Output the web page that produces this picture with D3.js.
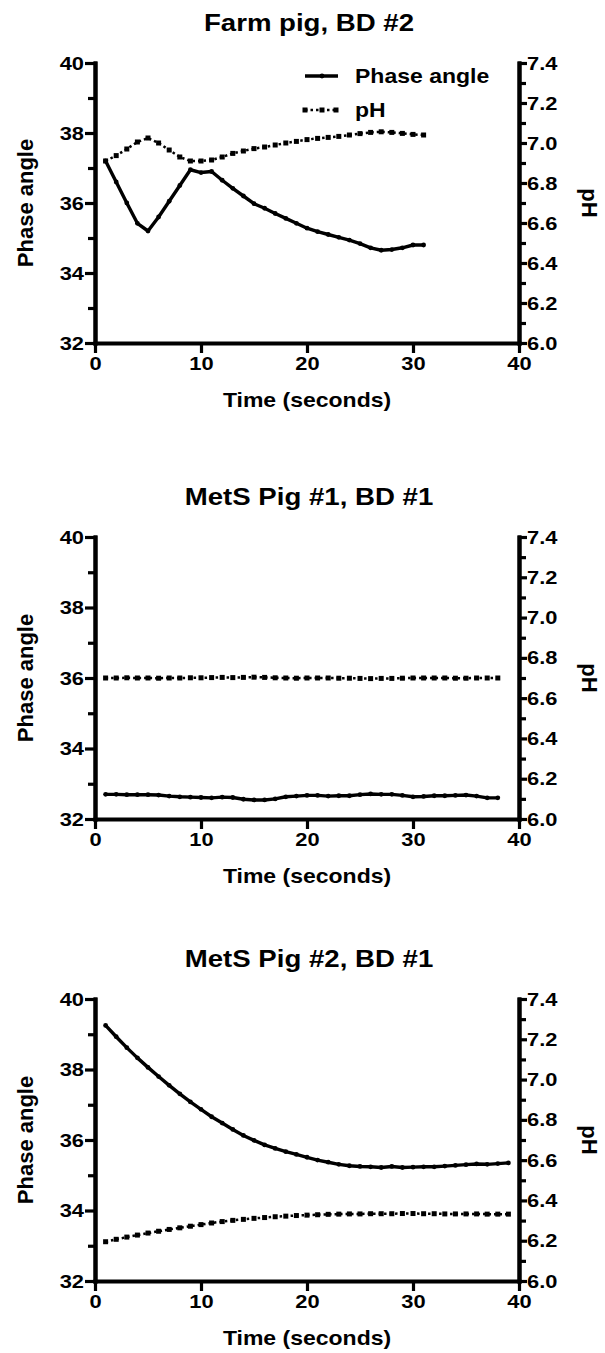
<!DOCTYPE html>
<html lang="en">
<head>
  <meta charset="UTF-8">
  <title>Phase angle and pH over time</title>
  <style>
    body {
      margin: 0;
      background: #fff;
    }
    svg text {
      font-family: "Liberation Sans", Arial, sans-serif;
      font-weight: bold;
      fill: #000;
    }
  </style>
  <script src="https://d3js.org/d3.v7.min.js"></script>
</head>
<body>
  <div id="chart"></div>

  <script>
    // ---- data ----
    const farmTime = [1, 2, 3, 4, 5, 6, 7, 8, 9, 10, 11, 12, 13, 14, 15, 16,
      17, 18, 19, 20, 21, 22, 23, 24, 25, 26, 27, 28, 29, 30, 31];
    const farmPhase = [37.2, 36.6, 36.0, 35.42, 35.2, 35.6, 36.05, 36.5, 36.95, 36.87,
      36.9, 36.65, 36.42, 36.2, 35.98, 35.85, 35.7, 35.56, 35.42, 35.28, 35.18,
      35.1, 35.02, 34.94, 34.84, 34.72, 34.65, 34.67, 34.72, 34.8, 34.8];
    const farmPH = [6.91, 6.937, 6.97, 7.005, 7.025, 7.0, 6.965, 6.93, 6.91, 6.91,
      6.915, 6.93, 6.948, 6.96, 6.972, 6.98, 6.99, 7.0, 7.008, 7.017, 7.023,
      7.028, 7.033, 7.04, 7.047, 7.053, 7.056, 7.053, 7.048, 7.043, 7.04];

    const mets1Time = [1, 2, 3, 4, 5, 6, 7, 8, 9, 10, 11, 12, 13, 14, 15, 16,
      17, 18, 19, 20, 21, 22, 23, 24, 25, 26, 27, 28, 29, 30, 31, 32, 33, 34,
      35, 36, 37, 38];
    const mets1Phase = [32.70, 32.70, 32.69, 32.69, 32.69, 32.68, 32.65, 32.63, 32.62,
      32.61, 32.60, 32.62, 32.61, 32.56, 32.54, 32.54, 32.57, 32.63, 32.65, 32.67,
      32.67, 32.65, 32.66, 32.66, 32.69, 32.71, 32.70, 32.70, 32.67, 32.63, 32.64,
      32.66, 32.66, 32.67, 32.68, 32.65, 32.60, 32.60];
    const mets1PH = [6.700, 6.700, 6.701, 6.700, 6.700, 6.699, 6.700, 6.700, 6.701,
      6.701, 6.702, 6.703, 6.702, 6.703, 6.704, 6.703, 6.701, 6.700, 6.699, 6.700,
      6.700, 6.700, 6.699, 6.699, 6.698, 6.697, 6.698, 6.698, 6.699, 6.700, 6.700,
      6.700, 6.700, 6.699, 6.699, 6.700, 6.700, 6.700];

    const mets2Time = [1, 2, 3, 4, 5, 6, 7, 8, 9, 10, 11, 12, 13, 14, 15, 16,
      17, 18, 19, 20, 21, 22, 23, 24, 25, 26, 27, 28, 29, 30, 31, 32, 33, 34,
      35, 36, 37, 38, 39];
    const mets2Phase = [39.25, 38.93, 38.62, 38.33, 38.06, 37.80, 37.55, 37.31, 37.08,
      36.87, 36.66, 36.48, 36.30, 36.13, 35.99, 35.86, 35.76, 35.67, 35.59, 35.51,
      35.43, 35.37, 35.31, 35.27, 35.25, 35.24, 35.22, 35.25, 35.22, 35.23, 35.24,
      35.24, 35.26, 35.28, 35.30, 35.32, 35.31, 35.33, 35.35];
    const mets2PH = [6.195, 6.207, 6.218, 6.228, 6.238, 6.247, 6.256, 6.264, 6.272,
      6.280, 6.288, 6.295, 6.301, 6.306, 6.311, 6.315, 6.319, 6.322, 6.325, 6.327,
      6.329, 6.331, 6.332, 6.333, 6.333, 6.334, 6.334, 6.334, 6.335, 6.335, 6.334,
      6.334, 6.333, 6.333, 6.333, 6.333, 6.332, 6.332, 6.332];

    const titles = ["Farm pig, BD #2", "MetS Pig #1, BD #1", "MetS Pig #2, BD #1"];
    const xTicks = [0, 10, 20, 30, 40];
    const phaseTicks = [32, 34, 36, 38, 40];
    const phaseMinor = [33, 35, 37, 39];
    const phTicks = [6.0, 6.2, 6.4, 6.6, 6.8, 7.0, 7.2, 7.4];
    const phMinor = [6.1, 6.3, 6.5, 6.7, 6.9, 7.1, 7.3];
    const legendLabels = ["Phase angle", "pH"];

    const panels = [
      {title: titles[0], time: farmTime, phase: farmPhase, ph: farmPH, top: 63, h: 280, legend: true},
      {title: titles[1], time: mets1Time, phase: mets1Phase, ph: mets1PH, top: 537, h: 282, legend: false},
      {title: titles[2], time: mets2Time, phase: mets2Phase, ph: mets2PH, top: 999, h: 282, legend: false}
    ];

    const W = 605, H = 1353;
    const left = 95, right = 519;
    const SX = 1.15; // horizontal text stretch seen in the original

    const svg = d3.select("#chart").append("svg")
      .attr("width", W)
      .attr("height", H);

    // horizontally stretched text helper
    function hText(parent, x, y, str, size, anchor) {
      return parent.append("text")
        .attr("transform", `translate(${x},${y}) scale(${SX},1)`)
        .attr("text-anchor", anchor)
        .style("font-size", size + "px")
        .text(str);
    }

    function styleAxis(g, tickW) {
      g.select(".domain").attr("stroke", "#000").attr("stroke-width", 4).attr("stroke-linecap", "square");
      g.selectAll(".tick line").attr("stroke", "#000").attr("stroke-width", tickW);
    }

    function stretchTicks(g, size) {
      g.selectAll(".tick text")
        .style("font-size", size + "px")
        .attr("x", function() { return (+d3.select(this).attr("x") || 0) / SX; })
        .attr("transform", `scale(${SX},1)`);
    }

    function pHSquares(g, pts, x, y) {
      g.selectAll(null)
        .data(pts)
        .enter()
        .append("rect")
        .attr("x", d => x(d) - 2.5)
        .attr("y", d => y(d) - 2.5)
        .attr("width", 5)
        .attr("height", 5)
        .attr("fill", "#000");
    }

    panels.forEach(function(p) {
      const bottom = p.top + p.h;
      const g = svg.append("g");

      const x = d3.scaleLinear().domain([0, 40]).range([left, right]);
      const yL = d3.scaleLinear().domain([32, 40]).range([bottom, p.top]);
      const yR = d3.scaleLinear().domain([6.0, 7.4]).range([bottom, p.top]);

      // title
      hText(g, (left + right) / 2 + 2, p.top - 32, p.title, 24, "middle");

      // x axis
      const gx = g.append("g")
        .attr("transform", `translate(0,${bottom})`)
        .call(d3.axisBottom(x).tickValues(xTicks).tickSize(10).tickSizeOuter(0).tickPadding(4));
      styleAxis(gx, 3.2);
      stretchTicks(gx, 19);

      // left axis: minor then major
      const gyMinor = g.append("g")
        .attr("transform", `translate(${left},0)`)
        .call(d3.axisLeft(yL).tickValues(phaseMinor).tickSize(7).tickSizeOuter(0).tickFormat(""));
      styleAxis(gyMinor, 3.2);
      const gy = g.append("g")
        .attr("transform", `translate(${left},0)`)
        .call(d3.axisLeft(yL).tickValues(phaseTicks).tickSize(10).tickSizeOuter(0).tickPadding(1));
      styleAxis(gy, 3.2);
      stretchTicks(gy, 19);

      // right axis: minor then major
      const grMinor = g.append("g")
        .attr("transform", `translate(${right},0)`)
        .call(d3.axisRight(yR).tickValues(phMinor).tickSize(7).tickSizeOuter(0).tickFormat(""));
      styleAxis(grMinor, 3.2);
      const gr = g.append("g")
        .attr("transform", `translate(${right},0)`)
        .call(d3.axisRight(yR).tickValues(phTicks).tickSize(8).tickSizeOuter(0).tickPadding(0)
          .tickFormat(d3.format(".1f")));
      styleAxis(gr, 3.2);
      stretchTicks(gr, 19);

      // axis titles
      hText(g, (left + right) / 2, bottom + 64, "Time (seconds)", 20, "middle");
      g.append("text")
        .attr("transform", `translate(33,${p.top + p.h / 2}) rotate(-90)`)
        .attr("text-anchor", "middle")
        .style("font-size", "22px")
        .text("Phase angle");
      g.append("text")
        .attr("transform", `translate(582,${p.top + p.h / 2}) rotate(90)`)
        .attr("text-anchor", "middle")
        .style("font-size", "22px")
        .text("pH");

      const idx = d3.range(p.time.length);

      // pH series: dotted line with square markers
      const phLine = d3.line().x(i => x(p.time[i])).y(i => yR(p.ph[i]));
      g.append("path")
        .datum(idx)
        .attr("fill", "none")
        .attr("stroke", "#000")
        .attr("stroke-width", 2.5)
        .attr("stroke-dasharray", "2.5,3")
        .attr("d", phLine);
      pHSquares(g, idx, i => x(p.time[i]), i => yR(p.ph[i]));

      // phase angle series: solid line with small dots
      const paLine = d3.line().x(i => x(p.time[i])).y(i => yL(p.phase[i]));
      g.append("path")
        .datum(idx)
        .attr("fill", "none")
        .attr("stroke", "#000")
        .attr("stroke-width", 3.4)
        .attr("stroke-linejoin", "round")
        .attr("d", paLine);
      g.selectAll(null)
        .data(idx)
        .enter()
        .append("circle")
        .attr("cx", i => x(p.time[i]))
        .attr("cy", i => yL(p.phase[i]))
        .attr("r", 2.4)
        .attr("fill", "#000");

      // legend
      if (p.legend) {
        const lg = g.append("g");
        lg.append("line")
          .attr("x1", 305).attr("x2", 338)
          .attr("y1", 76).attr("y2", 76)
          .attr("stroke", "#000").attr("stroke-width", 3.4);
        lg.append("circle").attr("cx", 322).attr("cy", 76).attr("r", 2.4).attr("fill", "#000");
        hText(lg, 355, 83, legendLabels[0], 20, "start");

        lg.append("line")
          .attr("x1", 305).attr("x2", 338)
          .attr("y1", 110).attr("y2", 110)
          .attr("stroke", "#000").attr("stroke-width", 2.5)
          .attr("stroke-dasharray", "2.5,3");
        pHSquares(lg, [305, 322, 336], d => d, () => 110);
        hText(lg, 355, 117, legendLabels[1], 20, "start");
      }
    });
  </script>
</body>
</html>
